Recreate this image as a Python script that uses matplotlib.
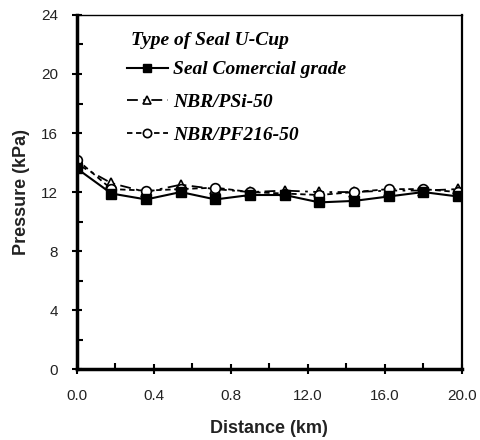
import matplotlib.pyplot as plt
from matplotlib.ticker import MultipleLocator, FixedLocator, FixedFormatter

# data
distance = [0.0, 1.8, 3.6, 5.4, 7.2, 9.0, 10.8, 12.6, 14.4, 16.2, 18.0, 19.8]
seal_commercial = [13.6, 11.9, 11.5, 12.0, 11.5, 11.8, 11.8, 11.3, 11.4, 11.7, 12.0, 11.7]
nbr_psi50 = [13.9, 12.6, 12.0, 12.5, 12.2, 12.0, 12.1, 12.0, 12.0, 12.1, 12.1, 12.2]
nbr_pf216 = [14.2, 12.2, 12.1, 12.2, 12.3, 12.0, 11.9, 11.8, 12.0, 12.2, 12.2, 12.0]

x_ticks = [0, 4, 8, 12, 16, 20]
x_labels = ["0.0", "0.4", "0.8", "12.0", "16.0", "20.0"]

plt.rcParams['font.family'] = ['Liberation Sans', 'DejaVu Sans']

fig = plt.figure(figsize=(4.8, 4.4), dpi=100)
ax = fig.add_axes([0.160, 0.161, 0.802, 0.805])

ax.plot(distance, seal_commercial, color='black', lw=1.5, ls='-',
        marker='s', ms=7, mfc='black', mec='black', label='Seal Comercial grade', zorder=3)
ax.plot(distance, nbr_psi50, color='black', lw=1.3, ls=(0, (6, 3, 1.5, 3)),
        marker='^', ms=7, mfc='white', mec='black', mew=1.2, label='NBR/PSi-50', zorder=2)
ax.plot(distance, nbr_pf216, color='black', lw=1.3, ls=(0, (3, 2)),
        marker='o', ms=7, mfc='white', mec='black', mew=1.2, label='NBR/PF216-50', zorder=2)

ax.set_xlim(0, 20)
ax.set_ylim(0, 24)
ax.xaxis.set_major_locator(FixedLocator(x_ticks))
ax.xaxis.set_major_formatter(FixedFormatter(x_labels))
ax.xaxis.set_minor_locator(MultipleLocator(2))
ax.yaxis.set_major_locator(MultipleLocator(4))
ax.yaxis.set_minor_locator(MultipleLocator(2))

ax.tick_params(which='major', direction='inout', length=7, width=1.5,
               labelsize=11, colors='black', labelcolor='#222222')
ax.tick_params(which='minor', direction='in', length=4, width=1.5)
ax.tick_params(axis='x', pad=11)
ax.tick_params(axis='y', pad=10)

for s in ax.spines.values():
    s.set_linewidth(1.0)
ax.spines['left'].set_linewidth(2.5)
ax.spines['bottom'].set_linewidth(2.5)
ax.spines['right'].set_linewidth(1.6)

ax.set_xlabel('Distance (km)', fontsize=13, fontweight='bold', labelpad=12, color='#222222')
ax.set_ylabel('Pressure (kPa)', fontsize=13, fontweight='bold', labelpad=8, color='#222222')

serif_bi = {'family': 'Liberation Serif', 'style': 'italic', 'weight': 'bold', 'size': 14}
ax.text(0.141, 0.929, 'Type of Seal U-Cup', transform=ax.transAxes,
        ha='left', va='center', fontproperties=serif_bi)
ax.legend(loc='upper left', bbox_to_anchor=(0.085, 0.92), frameon=False,
          handlelength=2.1, handletextpad=0.25, labelspacing=0.77,
          markerscale=0.85, prop=serif_bi)

fig.savefig('out.png', dpi=100)
